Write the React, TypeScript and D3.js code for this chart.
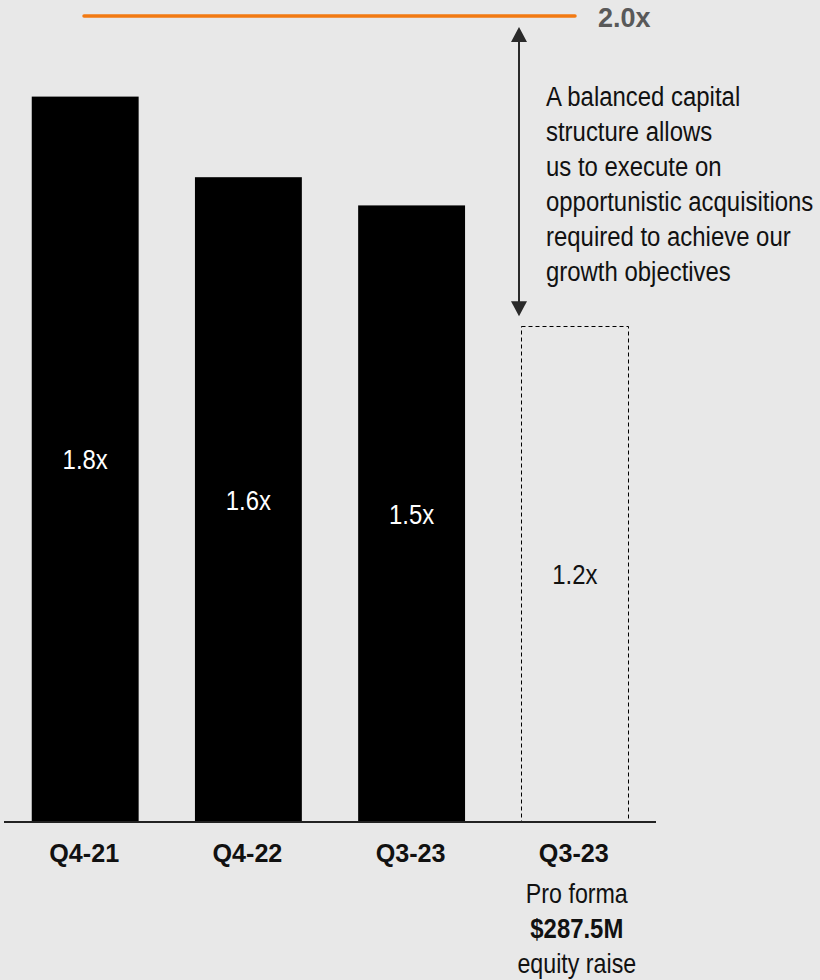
import React from "react";
import * as d3 from "d3";

const categories = ["Q4-21", "Q4-22", "Q3-23", "Q3-23"];
const values = [1.8, 1.6, 1.53, 1.23];
const valueLabels = ["1.8x", "1.6x", "1.5x", "1.2x"];
const proForma = [false, false, false, true];
const target = 2.0;
const targetLabel = "2.0x";
const noteLines = [
  "A balanced capital",
  "structure allows",
  "us to execute on",
  "opportunistic acquisitions",
  "required to achieve our",
  "growth objectives",
];
const subLabelLines = [
  { text: "Pro forma", bold: false },
  { text: "$287.5M", bold: true },
  { text: "equity raise", bold: false },
];

const W = 820;
const H = 980;
const FONT = "'Liberation Sans', Arial, sans-serif";

function NText({ x, y, size, weight = 400, fill = "#000", anchor = "start", sx = 0.855, children }: any) {
  return (
    <g transform={`translate(${x},${y}) scale(${sx},1)`}>
      <text x={0} y={0} fontFamily={FONT} fontSize={size} fontWeight={weight} fill={fill} textAnchor={anchor}>
        {children}
      </text>
    </g>
  );
}

export default function App() {
  const x = d3
    .scaleBand<number>()
    .domain(categories.map((_, i) => i))
    .range([4, 656])
    .paddingInner(0.345)
    .paddingOuter(0.17);
  const y = d3.scaleLinear().domain([0, 2.0]).range([822, 16]);
  const bw = x.bandwidth();
  const lastIdx = categories.length - 1;
  const arrowX = Math.round(x(lastIdx) as number) - 2;
  const arrowTop = y(target) + 11;
  const arrowBot = y(values[lastIdx]) - 10;

  return (
    <svg width={W} height={H} style={{ position: "absolute", left: 0, top: 0, background: "#e8e8e8" }}>
      <rect x={0} y={0} width={W} height={H} fill="#e8e8e8" />
      {/* target line */}
      <line x1={84} x2={575} y1={y(target)} y2={y(target)} stroke="#f27a12" strokeWidth={3.5} strokeLinecap="round" />
      <text x={598} y={26.5} fontFamily={FONT} fontSize={27} fontWeight={700} fill="#595959">
        {targetLabel}
      </text>
      {/* bars */}
      {values.map((v, i) => {
        const bx = x(i) as number;
        const top = y(v);
        if (proForma[i]) {
          const rx = Math.round(bx) + 0.5;
          const ry = Math.round(top) + 0.5;
          const rw = Math.round(bw);
          return (
            <rect key={i} x={rx} y={ry} width={rw} height={822 - ry} fill="none" stroke="#000" strokeWidth={1} strokeDasharray="4,3" />
          );
        }
        return <rect key={i} x={bx} y={top} width={bw} height={822 - top} fill="#000" />;
      })}
      {values.map((v, i) => {
        const bx = (x(i) as number) + bw / 2;
        const mid = (y(v) + 822) / 2;
        return (
          <NText key={"l" + i} x={bx} y={mid + 10} size={28} fill={proForma[i] ? "#111" : "#fff"} anchor="middle">
            {valueLabels[i]}
          </NText>
        );
      })}
      {/* axis */}
      <line x1={4} x2={656} y1={822} y2={822} stroke="#222" strokeWidth={2} />
      {categories.map((c, i) => (
        <NText key={"c" + i} x={(x(i) as number) + bw / 2 - 1} y={861.5} size={26.5} weight={700} sx={0.95} fill="#111" anchor="middle">
          {c}
        </NText>
      ))}
      {subLabelLines.map((l, j) => (
        <NText key={"s" + j} x={(x(lastIdx) as number) + bw / 2 + 2} y={903.3 + j * 35} size={27} weight={l.bold ? 700 : 400} sx={l.bold ? 0.885 : 0.86} fill="#111" anchor="middle">
          {l.text}
        </NText>
      ))}
      {/* arrow */}
      <line x1={arrowX} x2={arrowX} y1={arrowTop + 10} y2={arrowBot - 10} stroke="#2a2a2a" strokeWidth={2} />
      <path d={`M${arrowX},${arrowTop} L${arrowX - 8},${arrowTop + 15} L${arrowX + 8},${arrowTop + 15} Z`} fill="#2a2a2a" />
      <path d={`M${arrowX},${arrowBot} L${arrowX - 8},${arrowBot - 15} L${arrowX + 8},${arrowBot - 15} Z`} fill="#2a2a2a" />
      {noteLines.map((t, j) => (
        <NText key={"n" + j} x={546} y={106 + j * 35} size={28} fill="#111">
          {t}
        </NText>
      ))}
    </svg>
  );
}
